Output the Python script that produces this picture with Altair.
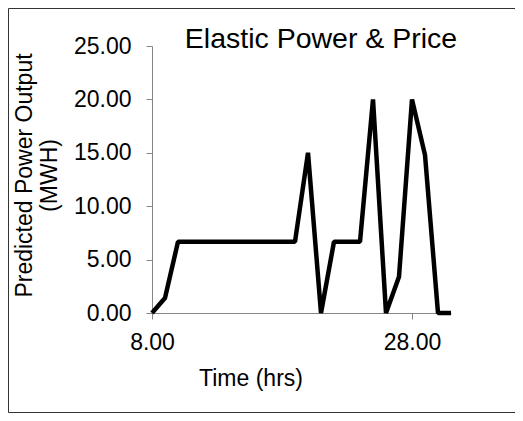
import altair as alt
import pandas as pd

hours = [8, 9, 10, 11, 12, 13, 14, 15, 16, 17, 18, 19, 20, 21, 22, 23, 24, 25, 26, 27, 28, 29, 30, 31]
power = [0, 1.4, 6.67, 6.67, 6.67, 6.67, 6.67, 6.67, 6.67, 6.67, 6.67, 6.67,
         15.0, 0, 6.67, 6.67, 6.67, 20.0, 0, 3.4, 20.0, 14.8, 0, 0]
x_ticks = [8, 28]
y_ticks = [0, 5, 10, 15, 20, 25]
title_text = "Elastic Power & Price"

df = pd.DataFrame({"hour": hours, "mw": power})
one = pd.DataFrame({"k": [0]})

FONT = "Liberation Sans"
AX = "#868686"

line = alt.Chart(df).mark_line(
    color="black", strokeWidth=4.5, strokeJoin="bevel", strokeCap="butt"
).encode(
    x=alt.X("hour:Q",
            scale=alt.Scale(domain=[8, 31], nice=False, zero=False),
            axis=alt.Axis(values=x_ticks, format=".2f", title="Time (hrs)",
                          labelPadding=12, titleX=98.5, titleY=72,
                          titleBaseline="alphabetic", titleAlign="center",
                          labelFlush=False, labelOverlap=False)),
    y=alt.Y("mw:Q",
            scale=alt.Scale(domain=[0, 25], nice=False),
            axis=alt.Axis(values=y_ticks, format=".2f",
                          title=["Predicted Power Output", "(MWH)"],
                          labelPadding=15, titleAngle=270,
                          titleX=-120.5, titleY=129,
                          titleBaseline="alphabetic", titleAlign="center",
                          titleLineHeight=25))
)

border = alt.Chart(one).mark_rect(filled=False, stroke="#333333", strokeWidth=1).encode(
    x=alt.value(-143.5), x2=alt.value(380),
    y=alt.value(-37.5), y2=alt.value(366.5)
)

ttl = alt.Chart(one).mark_text(
    font=FONT, fontSize=28.5, color="black", align="center", baseline="alphabetic"
).encode(
    x=alt.value(169), y=alt.value(1.5), text=alt.value(title_text)
)

chart = alt.layer(border, line, ttl).properties(
    width=299, height=267,
    autosize=alt.AutoSizeParams(type="none"),
    padding={"left": 144, "top": 38, "right": 64, "bottom": 100},
    background="white"
).configure_view(stroke=None).configure_axis(
    grid=False, domainColor=AX, tickColor=AX, domainWidth=1, tickWidth=1, tickSize=6,
    labelFont=FONT, labelFontSize=23, labelColor="black",
    titleFont=FONT, titleFontSize=23, titleFontWeight="normal", titleColor="black"
)

chart.save("out.html", embed_options={"renderer": "svg", "actions": False})
